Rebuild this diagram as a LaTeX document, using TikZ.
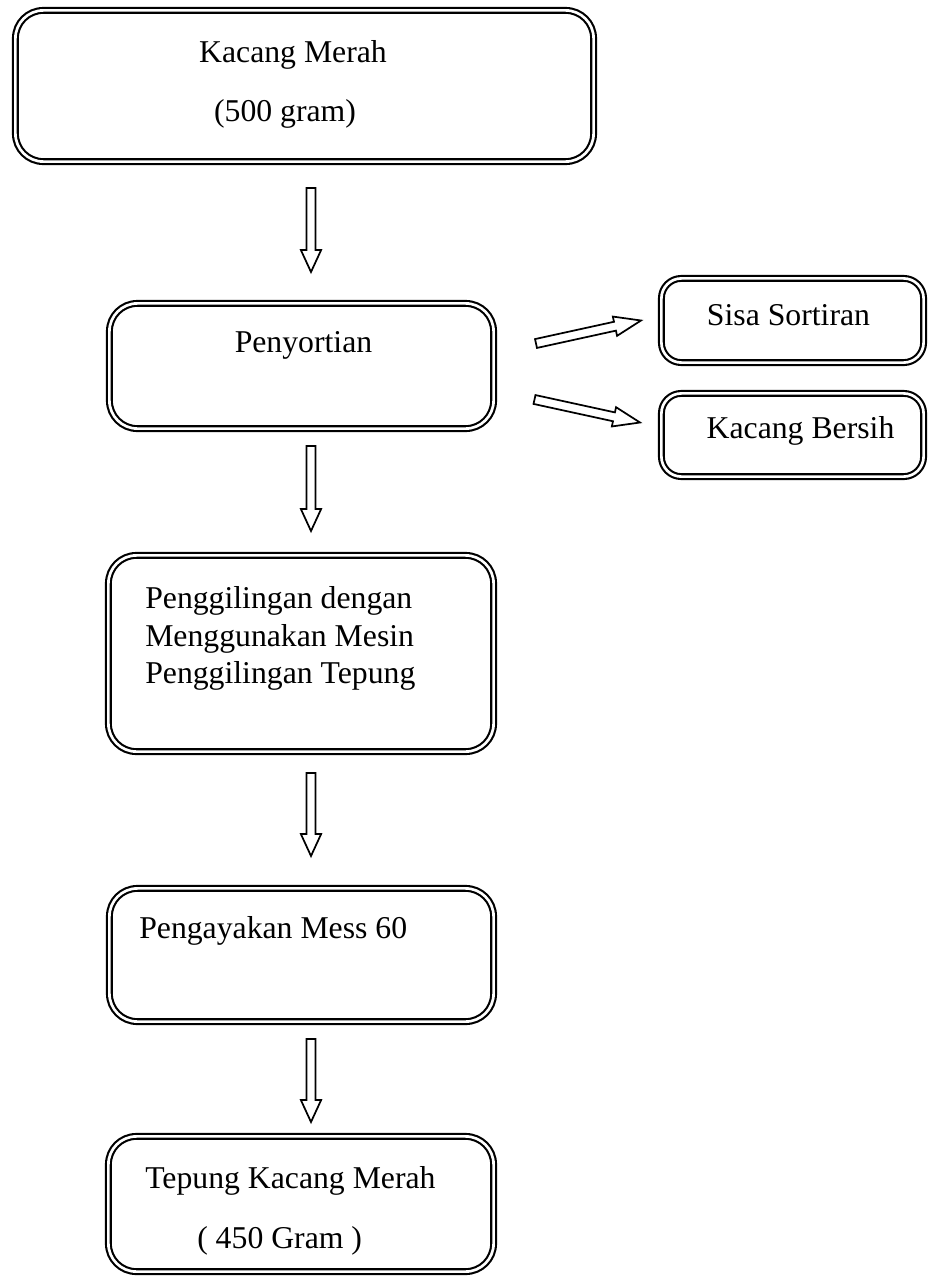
\documentclass[tikz,border=0pt]{standalone}
\usepackage{fontspec}
\setmainfont{Liberation Serif}
\usetikzlibrary{calc,fit}
\tikzset{
  box/.style={draw=black, double=white, line width=1.6pt, double distance=2.0pt,
    rounded corners=21pt, inner sep=0pt, fill=none},
  sidebox/.style={box, rounded corners=15pt},
  txt/.style={inner sep=0pt, font=\fontsize{23.8pt}{28pt}\selectfont, text=black},
  blockarr/.style={draw=black, line width=1.3pt, fill=white, line join=miter},
}
\newcommand\blockarrow[5]{%
  \coordinate (hb) at ($(#2)!#5!(#1)$);
  \draw[blockarr] ($(#1)!#3!90:(#2)$) -- ($(hb)!#3!-90:(#1)$) -- ($(hb)!#4!-90:(#1)$)
    -- (#2) -- ($(hb)!#4!90:(#1)$) -- ($(hb)!#3!90:(#1)$) -- ($(#1)!#3!-90:(#2)$) -- cycle;
}
\begin{document}
\begin{tikzpicture}[x=0.75pt, y=-0.75pt]
\useasboundingbox (0,0) rectangle (930,1278);
% boxes
\node[box, fit={(15.4,10.4) (593.6,161.6)}] (b1) {};
\node[box, fit={(109.4,303.4) (493.6,428.6)}] (b2) {};
\node[sidebox, fit={(661.4,278.4) (923.6,362.6)}] (s1) {};
\node[sidebox, fit={(661.4,393.4) (923.6,476.6)}] (s2) {};
\node[box, fit={(108.4,555.4) (493.6,751.6)}] (b3) {};
\node[box, fit={(109.4,888.4) (493.6,1021.6)}] (b4) {};
\node[box, fit={(108.4,1136.4) (493.6,1271.6)}] (b5) {};
% texts
\node[txt, anchor=base] (t1a) at (293,62) {Kacang Merah};
\node[txt, anchor=base] (t1b) at (285,121) {(500 gram)};
\node[txt, anchor=base] (t2) at (303.5,352) {Penyortian};
\node[txt, anchor=base] (ts1) at (788.5,325) {Sisa Sortiran};
\node[txt, anchor=base] (ts2) at (800.5,438) {Kacang Bersih};
\node[txt, anchor=base west] (t3a) at (145,608) {Penggilingan dengan};
\node[txt, anchor=base west] (t3b) at (145,646) {Menggunakan Mesin};
\node[txt, anchor=base west] (t3c) at (145,683) {Penggilingan Tepung};
\node[txt, anchor=base west] (t4) at (139,938) {Pengayakan Mess 60};
\node[txt, anchor=base west] (t5a) at (145,1188) {Tepung Kacang Merah};
\node[txt, anchor=base west] (t5b) at (197,1248) {( 450 Gram )};
% arrow end points
\coordinate (a1s) at (311,188);
\coordinate (a1e) at (311,272);
\coordinate (a2s) at (311,446);
\coordinate (a2e) at (311,531);
\coordinate (a3s) at (311,773);
\coordinate (a3e) at (311,856);
\coordinate (a4s) at (311,1039);
\coordinate (a4e) at (311,1122);
\coordinate (d1s) at (536,343.5);
\coordinate (d1e) at (641,320.5);
\coordinate (d2s) at (534.5,399.5);
\coordinate (d2e) at (640,422.5);
\blockarrow{a1s}{a1e}{3.4pt}{7.6pt}{16.5pt}
\blockarrow{a2s}{a2e}{3.4pt}{7.6pt}{16.5pt}
\blockarrow{a3s}{a3e}{3.4pt}{7.6pt}{16.5pt}
\blockarrow{a4s}{a4e}{3.4pt}{7.6pt}{16.5pt}
\blockarrow{d1s}{d1e}{3.4pt}{7.4pt}{20pt}
\blockarrow{d2s}{d2e}{3.4pt}{7.4pt}{20pt}
\end{tikzpicture}
\end{document}
